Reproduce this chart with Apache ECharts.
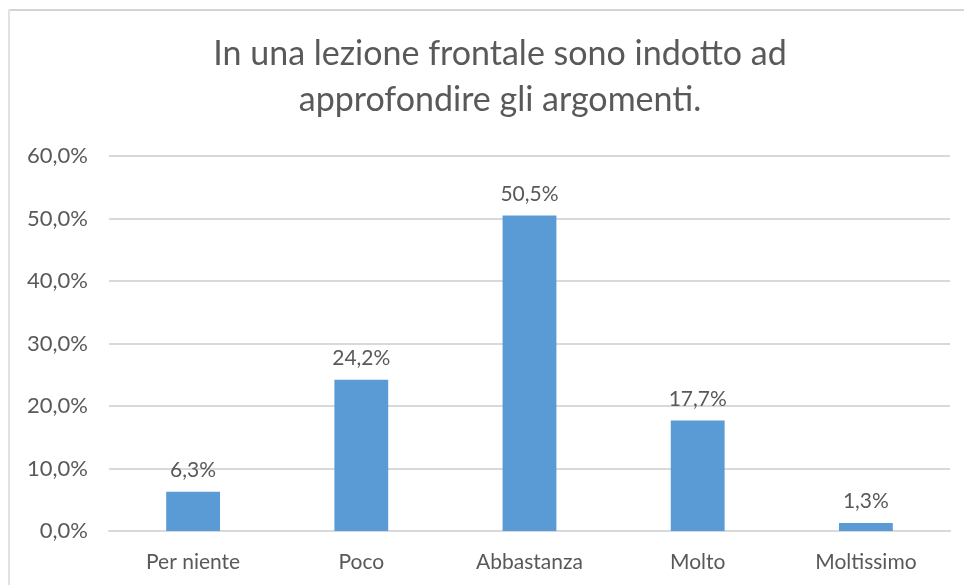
<!DOCTYPE html>
<html>
<head>
<meta charset="utf-8">
<script src="https://cdn.jsdelivr.net/npm/echarts@6/dist/echarts.min.js"></script>
<style>
html,body{margin:0;padding:0;background:#fff;}
#chart{width:964px;height:585px;}
</style>
</head>
<body>
<div id="chart"></div>
<script>
const titleText = 'In una lezione frontale sono indotto ad\napprofondire gli argomenti.';
const categories = ['Per niente', 'Poco', 'Abbastanza', 'Molto', 'Moltissimo'];
const values = [6.3, 24.2, 50.5, 17.7, 1.3];
const yMin = 0, yMax = 60, yStep = 10;

const fmt = v => v.toFixed(1).replace('.', ',') + '%';
const FONT = 'Lato, "Open Sans", sans-serif';

const chart = echarts.init(document.getElementById('chart'), null, {renderer: 'canvas'});
chart.setOption({
  animation: false,
  backgroundColor: '#ffffff',
  title: {
    text: titleText,
    left: 495,
    textAlign: 'center',
    top: 26,
    textStyle: {
      fontFamily: FONT,
      fontSize: 34,
      fontWeight: 'normal',
      color: '#595959',
      lineHeight: 46
    }
  },
  graphic: [
    {type: 'rect', shape: {x: 8, y: 9, width: 960, height: 2}, style: {fill: '#d4d4d4'}, silent: true},
    {type: 'rect', shape: {x: 8, y: 9, width: 2, height: 580}, style: {fill: '#e2e2e2'}, silent: true}
  ],
  grid: {left: 109, right: 14, top: 156, bottom: 54, containLabel: false},
  xAxis: {
    type: 'category',
    data: categories,
    axisTick: {show: false},
    axisLine: {lineStyle: {color: '#d9d9d9', width: 2}},
    axisLabel: {
      fontFamily: FONT,
      fontSize: 21,
      color: '#595959',
      margin: 21
    }
  },
  yAxis: {
    type: 'value',
    min: yMin,
    max: yMax,
    interval: yStep,
    axisLine: {show: false},
    axisTick: {show: false},
    splitLine: {lineStyle: {color: '#d9d9d9', width: 2}},
    axisLabel: {
      fontFamily: FONT,
      fontSize: 22,
      color: '#595959',
      margin: 21,
      formatter: v => fmt(v)
    }
  },
  series: [{
    type: 'bar',
    data: values,
    barWidth: '32%',
    itemStyle: {color: '#5b9bd5'},
    label: {
      show: true,
      position: 'top',
      distance: 11,
      fontFamily: FONT,
      fontSize: 21,
      color: '#595959',
      formatter: p => fmt(p.value)
    }
  }]
});
</script>
</body>
</html>
